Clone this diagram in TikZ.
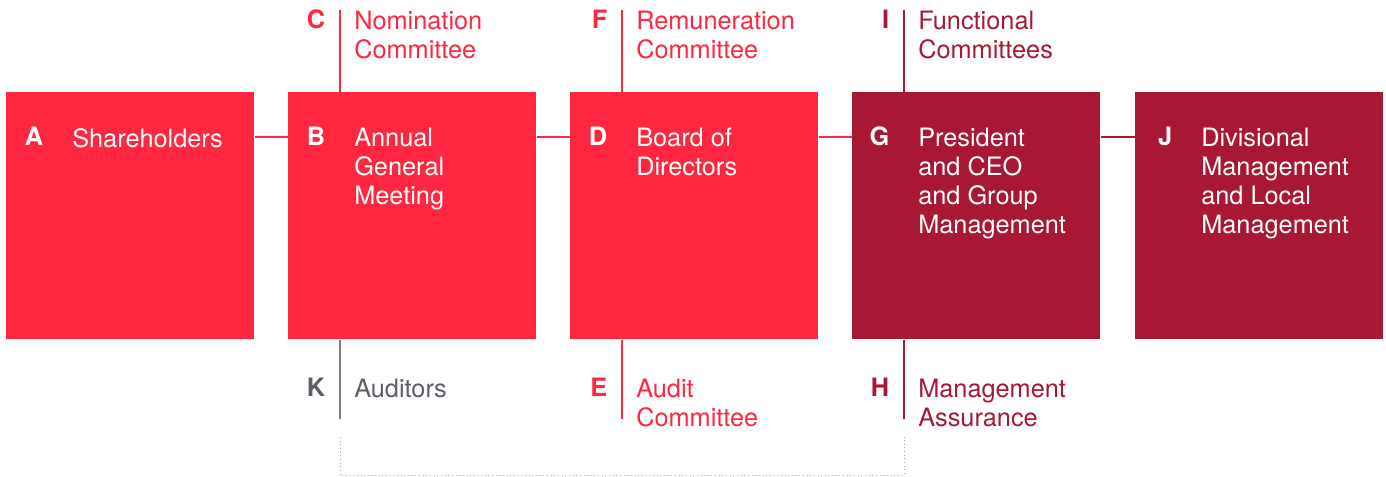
\documentclass[tikz,border=0pt]{standalone}
\usepackage{fontspec}
\setmainfont{TeX Gyre Heros}
\usetikzlibrary{calc, positioning}
\definecolor{brightred}{HTML}{FF2640}
\definecolor{darkred}{HTML}{A81834}
\definecolor{greytext}{HTML}{5A5F66}
\tikzstyle{block} = [rectangle, anchor=north west, inner sep=0pt,
	minimum width=6.2cm, minimum height=6.175cm]
\tikzstyle{tag} = [anchor=base east, inner sep=0pt, font=\fontsize{18pt}{20.6pt}\selectfont\bfseries]
\tikzstyle{label} = [anchor=north west, inner sep=0pt, align=left,
	font=\fontsize{18pt}{20.6pt}\selectfont]
\tikzstyle{link} = [line width=1pt]
\tikzstyle{stem} = [line width=1pt]
\tikzstyle{dots} = [dotted, line width=0.6pt, black!35]

\begin{document}
\begin{tikzpicture}[x=0.025cm, y=-0.025cm]
	\useasboundingbox (0,0) rectangle (1386,477);

	% set up blocks
	\node (share) [block, fill=brightred] at (6,92) {};
	\node (agm) [block, fill=brightred] at (288,92) {};
	\node (board) [block, fill=brightred] at (570,92) {};
	\node (ceo) [block, fill=darkred] at (852,92) {};
	\node (div) [block, fill=darkred] at (1135,92) {};

	% set up text in blocks
	\node (tagA) [tag, white] at (43.5,146) {A};
	\node (txtA) [label, white] at (72,128) {Shareholders};
	\node (tagB) [tag, white] at (325.5,146) {B};
	\node (txtB) [label, white] at (354,128) {Annual\\General\\Meeting};
	\node (tagD) [tag, white] at (607.5,146) {D};
	\node (txtD) [label, white] at (636,128) {Board of\\Directors};
	\node (tagG) [tag, white] at (889.5,146) {G};
	\node (txtG) [label, white] at (918,128) {President\\and CEO\\and Group\\Management};
	\node (tagJ) [tag, white] at (1172.5,146) {J};
	\node (txtJ) [label, white] at (1201,128) {Divisional\\Management\\and Local\\Management};

	% set up committees above
	\node (tagC) [tag, brightred] at (325.5,29) {C};
	\node (txtC) [label, brightred] at (354,11) {Nomination\\Committee};
	\node (tagF) [tag, brightred] at (607.5,29) {F};
	\node (txtF) [label, brightred] at (636,11) {Remuneration\\Committee};
	\node (tagI) [tag, darkred] at (889.5,29) {I};
	\node (txtI) [label, darkred] at (918,11) {Functional\\Committees};

	% set up bodies below
	\node (tagK) [tag, greytext] at (325.5,397) {K};
	\node (txtK) [label, greytext] at (354,379) {Auditors};
	\node (tagE) [tag, brightred] at (607.5,397) {E};
	\node (txtE) [label, brightred] at (636,379) {Audit\\Committee};
	\node (tagH) [tag, darkred] at (889.5,397) {H};
	\node (txtH) [label, darkred] at (918,379) {Management\\Assurance};

	% set up links between blocks
	\draw [link, brightred] ($(share.north east)+(0,45)$) -- ($(agm.north west)+(0,45)$);
	\draw [link, brightred] ($(agm.north east)+(0,45)$) -- ($(board.north west)+(0,45)$);
	\draw [link, brightred] ($(board.north east)+(0,45)$) -- ($(ceo.north west)+(0,45)$);
	\draw [link, darkred] ($(ceo.north east)+(0,45)$) -- ($(div.north west)+(0,45)$);

	% set up stems
	\coordinate (nom) at (340,10);
	\coordinate (rem) at (622,10);
	\coordinate (fun) at (904,10);
	\coordinate (aud) at (340,419);
	\coordinate (acom) at (622,419);
	\coordinate (mgmt) at (904,419);
	\draw [stem, brightred] (nom) -- (nom |- agm.north);
	\draw [stem, brightred] (rem) -- (rem |- board.north);
	\draw [stem, darkred] (fun) -- (fun |- ceo.north);
	\draw [stem, greytext!80] (aud |- agm.south) -- (aud);
	\draw [stem, brightred] (acom |- board.south) -- (acom);
	\draw [stem, darkred] (mgmt |- ceo.south) -- (mgmt);

	% set up dotted return
	\coordinate (aud-dots) at (340,437);
	\coordinate (mgmt-dots) at (904,437);
	\draw [dots] (aud-dots) -- ++(0,38) -| (mgmt-dots);

\end{tikzpicture}
\end{document}
